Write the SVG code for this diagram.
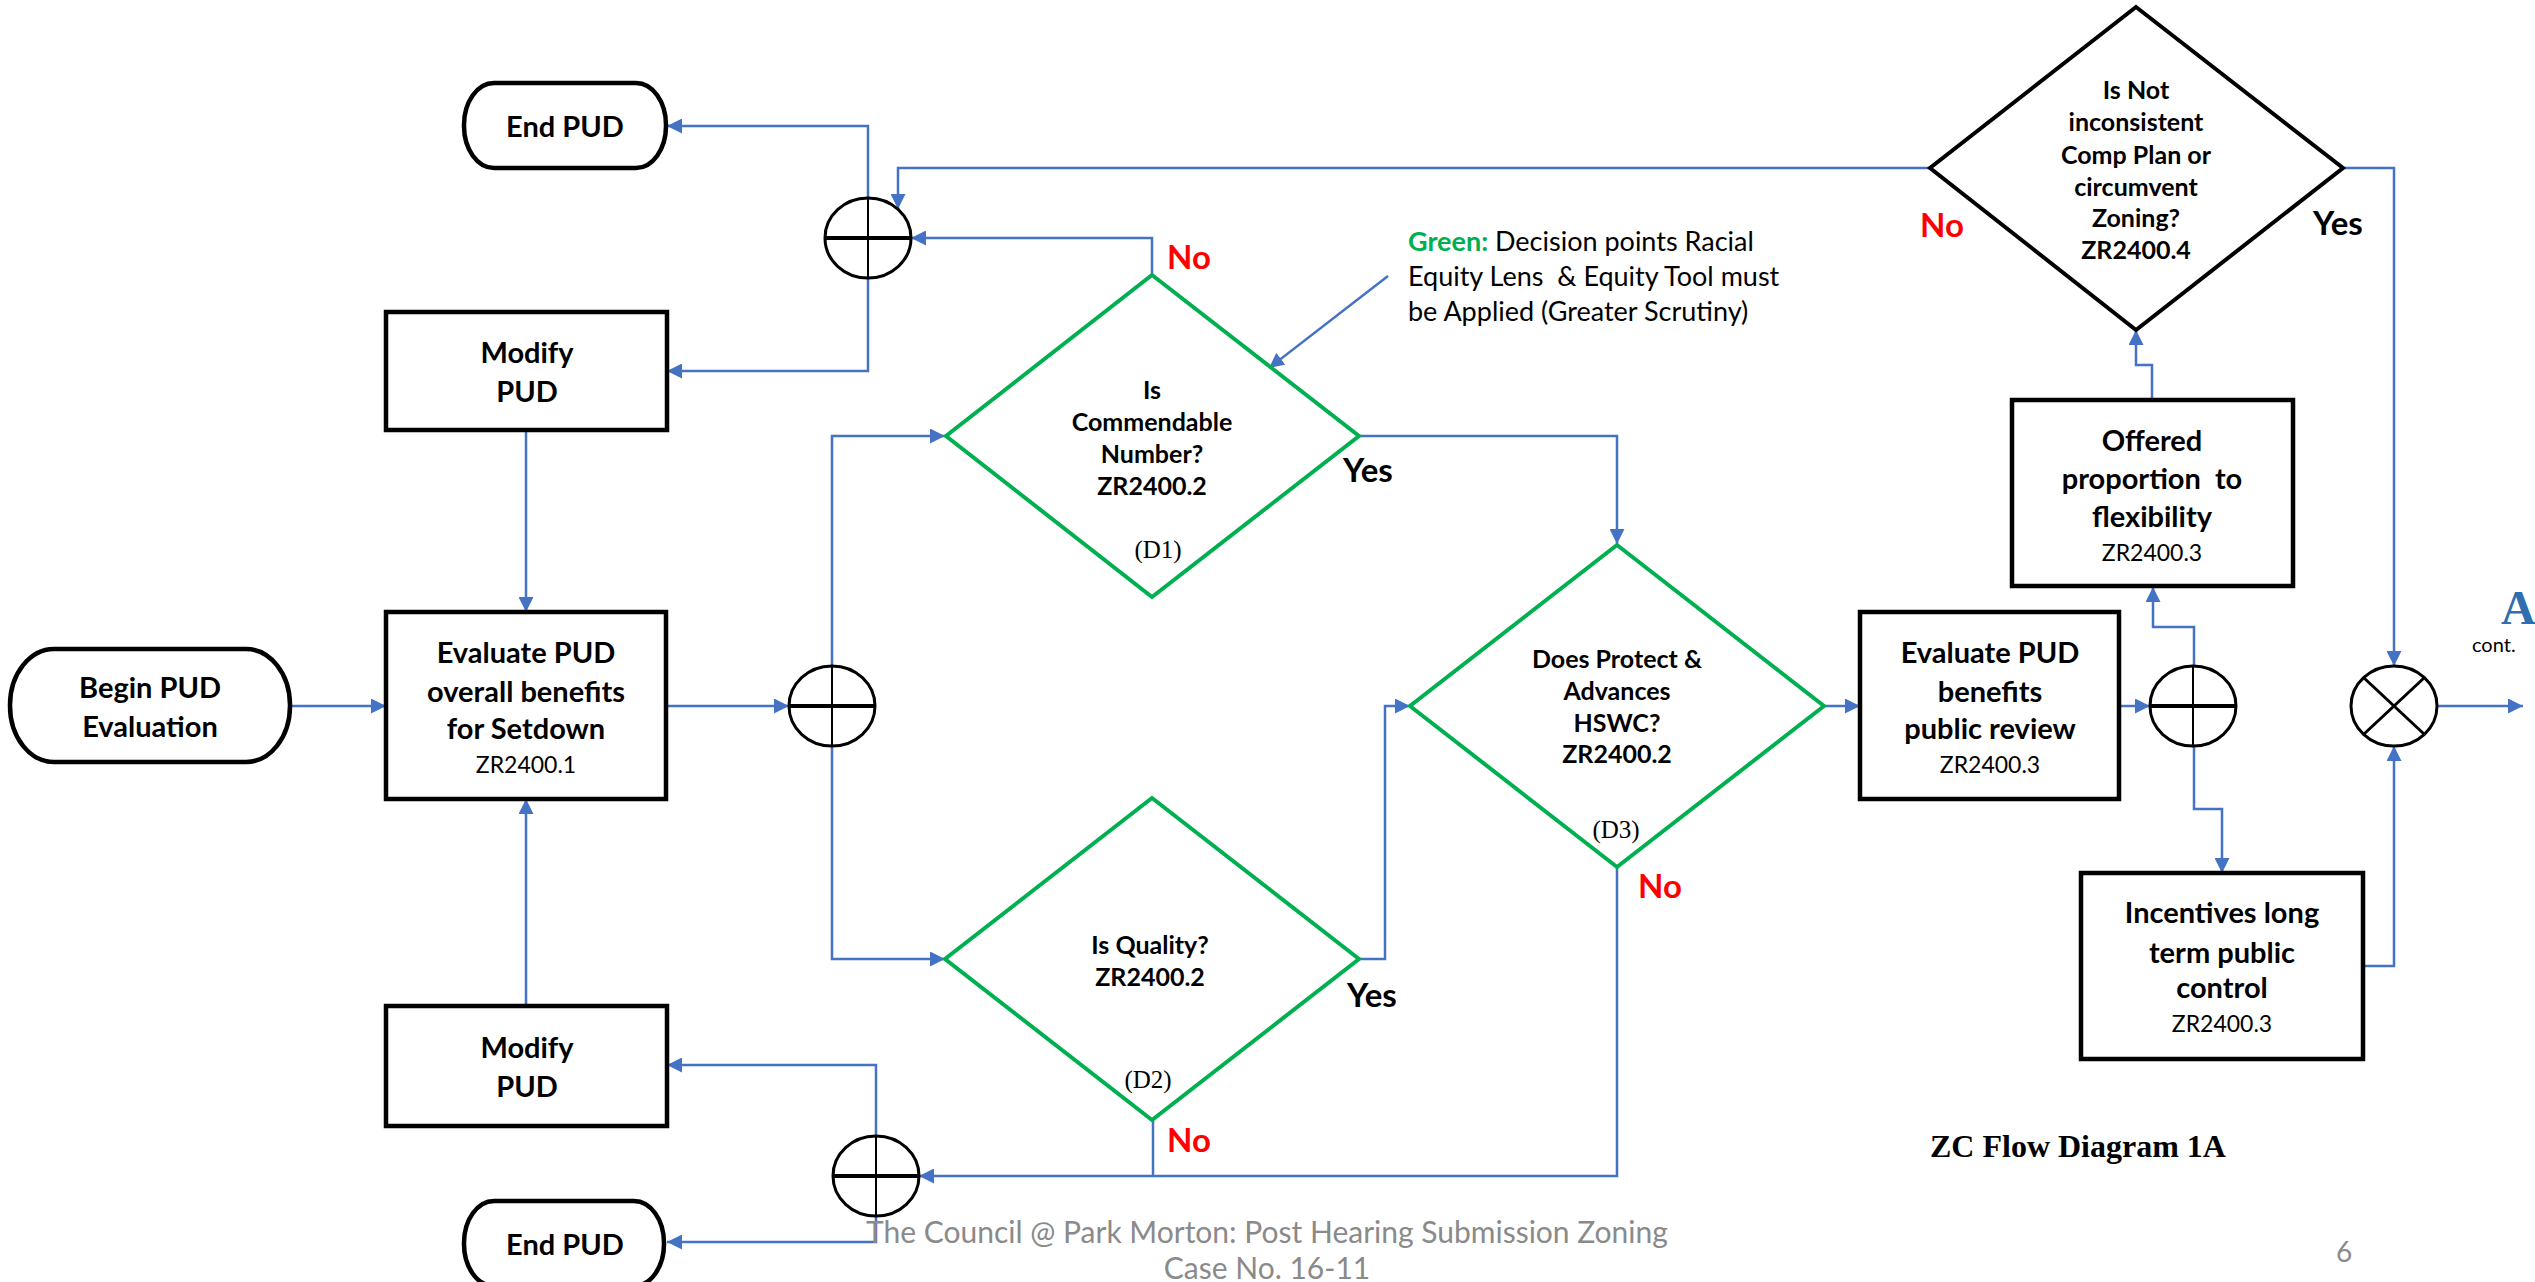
<svg xmlns="http://www.w3.org/2000/svg" width="2535" height="1282" viewBox="0 0 2535 1282">
<defs>
<style>
.box{fill:#fff;stroke:#000;stroke-width:4.5}
.term{fill:#fff;stroke:#000;stroke-width:4.5}
.dg{fill:none;stroke:#00B050;stroke-width:4}
.dk{fill:none;stroke:#000;stroke-width:4}
.jn{fill:#fff;stroke:#000;stroke-width:3}
.jh{stroke:#000;stroke-width:4}
.jv{stroke:#000;stroke-width:2}
.cn{fill:none;stroke:#4472C4;stroke-width:2.5}
.cna{fill:none;stroke:#4472C4;stroke-width:2.5;marker-end:url(#ah)}
.t{font-family:Lato,"Liberation Sans",sans-serif;font-weight:bold;font-size:29px;fill:#000;text-anchor:middle}
.z{font-family:Lato,"Liberation Sans",sans-serif;font-weight:normal;font-size:23px;fill:#000;text-anchor:middle}
.d{font-family:Lato,"Liberation Sans",sans-serif;font-weight:bold;font-size:25px;fill:#000;text-anchor:middle}
.s{font-family:"Liberation Serif","Times New Roman",serif;font-size:25px;fill:#000;text-anchor:middle}
.yes{font-family:Lato,"Liberation Sans",sans-serif;font-weight:bold;font-size:33px;fill:#000}
.no{font-family:Lato,"Liberation Sans",sans-serif;font-weight:bold;font-size:33px;fill:#FF0000}
.an{font-family:Lato,"Liberation Sans",sans-serif;font-size:27px;fill:#000}
.ft{font-family:Lato,"Liberation Sans",sans-serif;font-size:30px;fill:#8A8A8A;text-anchor:middle}
</style>
<marker id="ah" viewBox="0 0 10 10" refX="10" refY="5" markerWidth="15" markerHeight="15" markerUnits="userSpaceOnUse" orient="auto">
<path d="M0,0 L10,5 L0,10 z" fill="#4472C4"/>
</marker>
</defs>
<rect width="2535" height="1282" fill="#fff"/>

<g id="connectors">
<path class="cna" d="M290,706 H386"/>
<path class="cna" d="M526,430 V612"/>
<path class="cna" d="M526,1006 V799"/>
<path class="cna" d="M666,706 H789"/>
<path class="cna" d="M832,666 V436 H945"/>
<path class="cna" d="M832,746 V959 H945"/>
<path class="cna" d="M1152,275 V238 H911"/>
<path class="cna" d="M868,198 V126 H667"/>
<path class="cna" d="M868,278 V371 H667"/>
<path class="cna" d="M1930,168 H898 V209"/>
<path class="cna" d="M1388,276 L1269,368"/>
<path class="cna" d="M1359,436 H1617 V544"/>
<path class="cna" d="M1359,959 H1385 V706 H1410"/>
<path class="cna" d="M1824,706 H1860"/>
<path class="cna" d="M1617,867 V1176 H919"/>
<path class="cn" d="M1153,1120 V1176"/>
<path class="cna" d="M876,1136 V1065 H667"/>
<path class="cna" d="M876,1216 V1242 H667"/>
<path class="cna" d="M2119,706 H2150"/>
<path class="cna" d="M2194,666 V627 H2153 V587"/>
<path class="cna" d="M2194,746 V809 H2222 V873"/>
<path class="cna" d="M2152,400 V365 H2136 V330"/>
<path class="cna" d="M2343,168 H2394 V666"/>
<path class="cna" d="M2363,966 H2394 V746"/>
<path class="cna" d="M2437,706 H2523"/>
</g>

<g id="end-top">
<rect class="term" x="464" y="83" width="202" height="85" rx="30" ry="42"/>
<text class="t" x="565" y="137">End PUD</text>
</g>
<g id="modify-top">
<rect class="box" x="386" y="312" width="281" height="118"/>
<text class="t" x="527" y="363">Modify</text>
<text class="t" x="527" y="402">PUD</text>
</g>
<g id="begin">
<rect class="term" x="10" y="649" width="280" height="113" rx="44" ry="56"/>
<text class="t" x="150" y="698">Begin PUD</text>
<text class="t" x="150" y="737">Evaluation</text>
</g>
<g id="evaluate-setdown">
<rect class="box" x="386" y="612" width="280" height="187"/>
<text class="t" x="526" y="663">Evaluate PUD</text>
<text class="t" x="526" y="702">overall benefits</text>
<text class="t" x="526" y="739">for Setdown</text>
<text class="z" x="526" y="773">ZR2400.1</text>
</g>
<g id="modify-bottom">
<rect class="box" x="386" y="1006" width="281" height="120"/>
<text class="t" x="527" y="1058">Modify</text>
<text class="t" x="527" y="1097">PUD</text>
</g>
<g id="end-bottom">
<rect class="term" x="464" y="1201" width="200" height="85" rx="30" ry="42"/>
<text class="t" x="565" y="1255">End PUD</text>
</g>

<g id="junction-1">
<ellipse class="jn" cx="868" cy="238" rx="43" ry="40"/>
<line class="jh" x1="825" y1="238" x2="911" y2="238"/>
<line class="jv" x1="868" y1="198" x2="868" y2="278"/>
</g>
<g id="junction-2">
<ellipse class="jn" cx="832" cy="706" rx="43" ry="40"/>
<line class="jh" x1="789" y1="706" x2="875" y2="706"/>
<line class="jv" x1="832" y1="666" x2="832" y2="746"/>
</g>
<g id="junction-3">
<ellipse class="jn" cx="876" cy="1176" rx="43" ry="40"/>
<line class="jh" x1="833" y1="1176" x2="919" y2="1176"/>
<line class="jv" x1="876" y1="1136" x2="876" y2="1216"/>
</g>
<g id="junction-4">
<ellipse class="jn" cx="2193" cy="706" rx="43" ry="40"/>
<line class="jh" x1="2150" y1="706" x2="2236" y2="706"/>
<line class="jv" x1="2193" y1="666" x2="2193" y2="746"/>
</g>
<g id="junction-5">
<ellipse class="jn" cx="2394" cy="706" rx="43" ry="40"/>
<line class="jv" x1="2364" y1="678" x2="2424" y2="734" style="stroke-width:3"/>
<line class="jv" x1="2424" y1="678" x2="2364" y2="734" style="stroke-width:3"/>
</g>

<g id="d1">
<polygon class="dg" points="1152,275 1359,436 1152,597 946,436"/>
<text class="d" x="1152" y="399">Is</text>
<text class="d" x="1152" y="431">Commendable</text>
<text class="d" x="1152" y="463">Number?</text>
<text class="d" x="1152" y="495">ZR2400.2</text>
<text class="s" x="1158" y="558">(D1)</text>
</g>
<g id="d2">
<polygon class="dg" points="1152,798 1359,959 1152,1120 945,959"/>
<text class="d" x="1150" y="954">Is Quality?</text>
<text class="d" x="1150" y="986">ZR2400.2</text>
<text class="s" x="1148" y="1088">(D2)</text>
</g>
<g id="d3">
<polygon class="dg" points="1617,545 1824,706 1617,867 1410,706"/>
<text class="d" x="1617" y="668">Does Protect &amp;</text>
<text class="d" x="1617" y="700">Advances</text>
<text class="d" x="1617" y="732">HSWC?</text>
<text class="d" x="1617" y="763">ZR2400.2</text>
<text class="s" x="1616" y="838">(D3)</text>
</g>
<g id="d4">
<polygon class="dk" points="2136,7 2343,168 2136,330 1930,168"/>
<text class="d" x="2136" y="99">Is Not</text>
<text class="d" x="2136" y="131">inconsistent</text>
<text class="d" x="2136" y="164">Comp Plan or</text>
<text class="d" x="2136" y="196">circumvent</text>
<text class="d" x="2136" y="227">Zoning?</text>
<text class="d" x="2136" y="259">ZR2400.4</text>
</g>

<g id="evaluate-public">
<rect class="box" x="1860" y="612" width="259" height="187"/>
<text class="t" x="1990" y="663">Evaluate PUD</text>
<text class="t" x="1990" y="702">benefits</text>
<text class="t" x="1990" y="739">public review</text>
<text class="z" x="1990" y="773">ZR2400.3</text>
</g>
<g id="offered">
<rect class="box" x="2012" y="400" width="281" height="186"/>
<text class="t" x="2152" y="451" xml:space="preserve">Offered</text>
<text class="t" x="2152" y="489" xml:space="preserve">proportion  to</text>
<text class="t" x="2152" y="527">flexibility</text>
<text class="z" x="2152" y="561">ZR2400.3</text>
</g>
<g id="incentives">
<rect class="box" x="2081" y="873" width="282" height="186"/>
<text class="t" x="2222" y="923">Incentives long</text>
<text class="t" x="2222" y="963">term public</text>
<text class="t" x="2222" y="998">control</text>
<text class="z" x="2222" y="1032">ZR2400.3</text>
</g>
<g id="connector-a">
<text x="2501" y="624" style="font-family:'Liberation Serif',serif;font-weight:bold;font-size:48px;fill:#2F6EB0">A</text>
<text x="2472" y="652" style="font-family:Lato,'Liberation Sans',sans-serif;font-size:20px;fill:#000">cont.</text>
</g>

<g id="labels">
<text class="no" x="1167" y="269">No</text>
<text class="yes" x="1343" y="482">Yes</text>
<text class="yes" x="1347" y="1007">Yes</text>
<text class="no" x="1167" y="1152">No</text>
<text class="no" x="1638" y="898">No</text>
<text class="no" x="1920" y="237">No</text>
<text class="yes" x="2313" y="235">Yes</text>
</g>

<g id="annotation">
<text class="an" x="1408" y="251"><tspan style="fill:#00B050;font-weight:bold">Green:</tspan> Decision points Racial</text>
<text class="an" x="1408" y="286" xml:space="preserve">Equity Lens  &amp; Equity Tool must</text>
<text class="an" x="1408" y="321">be Applied (Greater Scrutiny)</text>
</g>

<g id="footer">
<text class="ft" x="1267" y="1243">The Council @ Park Morton: Post Hearing Submission Zoning</text>
<text class="ft" x="1267" y="1279">Case No. 16-11</text>
<text x="2344" y="1262" style="font-family:Lato,'Liberation Sans',sans-serif;font-size:28px;fill:#8A8A8A;text-anchor:middle">6</text>
<text x="1930" y="1157" style="font-family:'Liberation Serif',serif;font-weight:bold;font-size:32px;fill:#000">ZC Flow Diagram 1A</text>
</g>
</svg>
